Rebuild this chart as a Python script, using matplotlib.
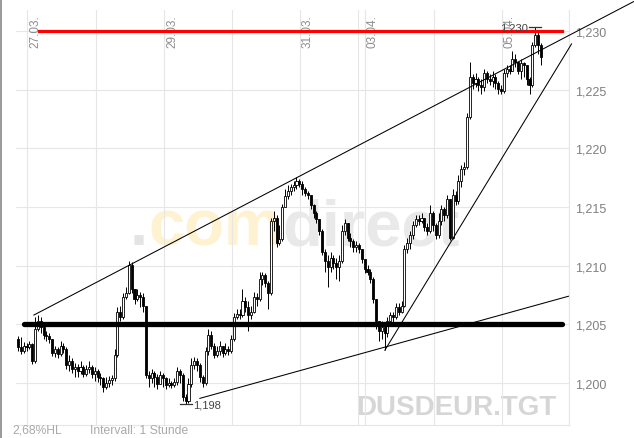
import numpy as np
import matplotlib
matplotlib.use("Agg")
import matplotlib.pyplot as plt

plt.rcParams['font.family'] = ['Liberation Sans', 'DejaVu Sans']

# hourly candles, USD/EUR (open of each bar = close of the previous one)
first_open = 1.2038
close = [1.2031, 1.2027, 1.2032, 1.2031, 1.2033, 1.2019, 1.2046, 1.2053, 1.2048, 1.2041,
         1.2040, 1.2038, 1.2026, 1.2029, 1.2025, 1.2032, 1.2029, 1.2015, 1.2019, 1.2012,
         1.2014, 1.2010, 1.2014, 1.2008, 1.2012, 1.2014, 1.2008, 1.2010, 1.2005, 1.2004,
         1.1997, 1.2000, 1.2003, 1.2004, 1.2024, 1.2061, 1.2056, 1.2073, 1.2077, 1.2101,
         1.2080, 1.2072, 1.2075, 1.2073, 1.2066, 1.2007, 1.2004, 1.2009, 1.2005, 1.1999,
         1.2007, 1.2004, 1.1998, 1.2000, 1.1998, 1.2001, 1.2010, 1.2007, 1.1988, 1.1985,
         1.1999, 1.2015, 1.2019, 1.2015, 1.2005, 1.2000, 1.2027, 1.2041, 1.2032, 1.2024,
         1.2027, 1.2032, 1.2026, 1.2029, 1.2027, 1.2038, 1.2056, 1.2059, 1.2058, 1.2070,
         1.2065, 1.2058, 1.2061, 1.2073, 1.2072, 1.2089, 1.2092, 1.2085, 1.2077, 1.2138,
         1.2141, 1.2119, 1.2123, 1.2150, 1.2159, 1.2164, 1.2167, 1.2169, 1.2172, 1.2170,
         1.2165, 1.2162, 1.2160, 1.2152, 1.2145, 1.2140, 1.2130, 1.2112, 1.2104, 1.2099,
         1.2107, 1.2102, 1.2099, 1.2104, 1.2130, 1.2136, 1.2124, 1.2121, 1.2116, 1.2118,
         1.2114, 1.2106, 1.2097, 1.2095, 1.2089, 1.2072, 1.2053, 1.2044, 1.2048, 1.2043,
         1.2053, 1.2058, 1.2056, 1.2065, 1.2061, 1.2066, 1.2114, 1.2119, 1.2126, 1.2135,
         1.2140, 1.2138, 1.2141, 1.2133, 1.2130, 1.2145, 1.2135, 1.2126, 1.2138, 1.2148,
         1.2143, 1.2157, 1.2124, 1.2160, 1.2155, 1.2172, 1.2182, 1.2184, 1.2227, 1.2261,
         1.2256, 1.2259, 1.2254, 1.2252, 1.2264, 1.2259, 1.2257, 1.2261, 1.2256, 1.2251,
         1.2249, 1.2264, 1.2268, 1.2266, 1.2276, 1.2274, 1.2266, 1.2273, 1.2271, 1.2259,
         1.2254, 1.2288, 1.2297, 1.2288, 1.2278]
high = [1.2040, 1.2039, 1.2035, 1.2034, 1.2036, 1.2034, 1.2056, 1.2058, 1.2056, 1.2049,
        1.2044, 1.2043, 1.2038, 1.2032, 1.2031, 1.2036, 1.2034, 1.2031, 1.2024, 1.2021,
        1.2017, 1.2016, 1.2019, 1.2015, 1.2015, 1.2019, 1.2015, 1.2014, 1.2012, 1.2009,
        1.2005, 1.2005, 1.2006, 1.2007, 1.2029, 1.2065, 1.2066, 1.2077, 1.2082, 1.2104,
        1.2103, 1.2080, 1.2080, 1.2078, 1.2077, 1.2066, 1.2010, 1.2012, 1.2010, 1.2008,
        1.2010, 1.2009, 1.2005, 1.2004, 1.2002, 1.2004, 1.2014, 1.2012, 1.2009, 1.1991,
        1.2004, 1.2021, 1.2022, 1.2021, 1.2017, 1.2007, 1.2031, 1.2046, 1.2044, 1.2034,
        1.2032, 1.2036, 1.2032, 1.2034, 1.2032, 1.2041, 1.2060, 1.2063, 1.2063, 1.2080,
        1.2073, 1.2070, 1.2066, 1.2078, 1.2077, 1.2095, 1.2095, 1.2094, 1.2087, 1.2141,
        1.2147, 1.2143, 1.2135, 1.2153, 1.2165, 1.2169, 1.2170, 1.2172, 1.2176, 1.2174,
        1.2172, 1.2167, 1.2164, 1.2160, 1.2153, 1.2147, 1.2140, 1.2131, 1.2114, 1.2109,
        1.2112, 1.2109, 1.2107, 1.2109, 1.2135, 1.2140, 1.2136, 1.2128, 1.2123, 1.2121,
        1.2119, 1.2114, 1.2104, 1.2101, 1.2097, 1.2090, 1.2072, 1.2053, 1.2053, 1.2051,
        1.2056, 1.2061, 1.2061, 1.2068, 1.2068, 1.2070, 1.2118, 1.2124, 1.2130, 1.2138,
        1.2143, 1.2143, 1.2145, 1.2141, 1.2136, 1.2152, 1.2147, 1.2136, 1.2145, 1.2152,
        1.2150, 1.2160, 1.2157, 1.2165, 1.2164, 1.2177, 1.2186, 1.2188, 1.2230, 1.2274,
        1.2263, 1.2264, 1.2261, 1.2259, 1.2268, 1.2266, 1.2263, 1.2266, 1.2263, 1.2257,
        1.2254, 1.2268, 1.2271, 1.2271, 1.2283, 1.2280, 1.2274, 1.2276, 1.2274, 1.2271,
        1.2261, 1.2291, 1.2303, 1.2300, 1.2290]
low = [1.2027, 1.2025, 1.2026, 1.2027, 1.2029, 1.2016, 1.2017, 1.2044, 1.2043, 1.2038,
       1.2036, 1.2034, 1.2023, 1.2022, 1.2021, 1.2023, 1.2026, 1.2012, 1.2010, 1.2009,
       1.2005, 1.2005, 1.2008, 1.2005, 1.2006, 1.2009, 1.2004, 1.2002, 1.2001, 1.1998,
       1.1992, 1.1995, 1.1997, 1.1998, 1.2002, 1.2022, 1.2053, 1.2055, 1.2072, 1.2076,
       1.2077, 1.2067, 1.2070, 1.2065, 1.2061, 1.2004, 1.1997, 1.2000, 1.1997, 1.1995,
       1.2002, 1.1997, 1.1995, 1.1997, 1.1996, 1.1997, 1.1998, 1.2000, 1.1985, 1.1982,
       1.1983, 1.1997, 1.2012, 1.2010, 1.2001, 1.1997, 1.1998, 1.2024, 1.2029, 1.2021,
       1.2022, 1.2024, 1.2022, 1.2024, 1.2024, 1.2026, 1.2036, 1.2055, 1.2055, 1.2056,
       1.2061, 1.2044, 1.2055, 1.2060, 1.2066, 1.2070, 1.2084, 1.2082, 1.2063, 1.2075,
       1.2130, 1.2116, 1.2118, 1.2121, 1.2150, 1.2157, 1.2160, 1.2164, 1.2165, 1.2167,
       1.2160, 1.2159, 1.2157, 1.2148, 1.2141, 1.2136, 1.2126, 1.2109, 1.2095, 1.2082,
       1.2095, 1.2097, 1.2089, 1.2087, 1.2102, 1.2126, 1.2121, 1.2116, 1.2112, 1.2112,
       1.2111, 1.2102, 1.2094, 1.2092, 1.2085, 1.2068, 1.2046, 1.2036, 1.2038, 1.2028,
       1.2039, 1.2049, 1.2051, 1.2055, 1.2058, 1.2060, 1.2065, 1.2111, 1.2114, 1.2123,
       1.2133, 1.2135, 1.2136, 1.2130, 1.2126, 1.2128, 1.2130, 1.2123, 1.2124, 1.2135,
       1.2138, 1.2141, 1.2122, 1.2123, 1.2152, 1.2153, 1.2167, 1.2177, 1.2182, 1.2225,
       1.2251, 1.2252, 1.2249, 1.2246, 1.2249, 1.2256, 1.2254, 1.2252, 1.2251, 1.2246,
       1.2246, 1.2247, 1.2261, 1.2263, 1.2266, 1.2269, 1.2263, 1.2259, 1.2261, 1.2254,
       1.2246, 1.2252, 1.2286, 1.2280, 1.2271]

# day boundaries (bar index) and their labels
day_pos = [3.2, 27.5, 51.4, 75.3, 99.2, 119.6, 122.1, 146.4, 170.3, 193.9]
day_labels = ['27.03.', '', '29.03.', '', '31.03.', '', '03.04.', '', '05.04.', '']
price_ticks = [1.200, 1.205, 1.210, 1.215, 1.220, 1.225, 1.230]

# drawn lines: horizontal levels and trend lines (bar index, price)
resistance = 1.230
resistance_span = [7.4, 191.3]
support = 1.205
support_span = [2.1, 191.6]
upper_trend = ([5.6, 216.6], [1.2058, 1.2325])
lower_trend = ([64.0, 193.7], [1.1987, 1.2074])
steep_trend = ([129.1, 194.8], [1.2028, 1.2289])

close = np.array(close)
high = np.array(high)
low = np.array(low)
opn = np.concatenate([[first_open], close[:-1]])
x = np.arange(len(close))

fig = plt.figure(figsize=(6.34, 4.39), dpi=100)
ax = fig.add_axes([16 / 634, 13 / 439, 553 / 634, 415 / 439])
ax.set_xlim(-0.7, 193.9)
ax.set_ylim(1.19643, 1.23179)

grid_c = '#e6e6e6'
for p in day_pos:
    ax.axvline(p, color=grid_c, lw=0.8, zorder=1)
for p in price_ticks:
    ax.axhline(p, color=grid_c, lw=0.8, zorder=1)

for s in ['left', 'top']:
    ax.spines[s].set_visible(False)
for s in ['bottom', 'right']:
    ax.spines[s].set_color(grid_c)
    ax.spines[s].set_linewidth(0.8)

ax.set_xticks([])
ax.yaxis.tick_right()
ax.set_yticks(price_ticks)
ax.set_yticklabels([f'{p:.3f}'.replace('.', ',') for p in price_ticks])
ax.tick_params(axis='y', length=0, pad=4.5, labelsize=9, labelcolor='#808080')

# date labels, rotated, right of each day line
for p, lab in zip(day_pos, day_labels):
    if lab:
        ax.annotate(lab, (p, 0.99), xycoords=('data', 'axes fraction'),
                    xytext=(1.4, 0), textcoords='offset points', rotation=90,
                    ha='left', va='top', fontsize=8.5, color='#8c8c8c')

# candles
up = close >= opn
ax.vlines(x, low, high, color='black', lw=0.7, zorder=3)
body_lo = np.minimum(opn, close)
body_h = np.maximum(np.abs(close - opn), 0.00003)
ax.bar(x[up], body_h[up], bottom=body_lo[up], width=0.72, color='white',
       edgecolor='black', linewidth=0.6, zorder=3)
ax.bar(x[~up], body_h[~up], bottom=body_lo[~up], width=0.72, color='black',
       edgecolor='black', linewidth=0.6, zorder=3)

# levels and trend lines
ax.plot(resistance_span, [resistance, resistance], color='#ff0000', lw=2.3, zorder=5)
ax.plot(support_span, [support, support], color='black', lw=3.8,
        solid_capstyle='round', zorder=5)
for tx, ty in [upper_trend, lower_trend, steep_trend]:
    ax.plot(tx, ty, color='black', lw=0.75, zorder=4, clip_on=False)

# high / low markers
ih = int(np.argmax(high))
il = int(np.argmin(low))
ax.plot([ih - 2.1, ih + 2.1], [high[ih], high[ih]], color='#333333', lw=0.9, zorder=4)
ax.annotate(f'{high[ih]:.3f}'.replace('.', ','), (ih - 2.1, high[ih]),
            xytext=(-1, 0), textcoords='offset points', ha='right', va='center',
            fontsize=8, color='#444444', zorder=6)
ax.plot([il - 2.1, il + 2.1], [low[il], low[il]], color='#333333', lw=0.9, zorder=4)
ax.annotate(f'{low[il]:.3f}'.replace('.', ','), (il + 2.1, low[il]),
            xytext=(1, 0), textcoords='offset points', ha='left', va='center',
            fontsize=8, color='#444444', zorder=6)

# watermarks
ax.text(0.978, 0.0265, 'DUSDEUR.TGT', transform=ax.transAxes, ha='right',
        va='baseline', fontsize=20, fontweight='bold', color='#d6d6d6', zorder=0)
fig.canvas.draw()
r = fig.canvas.get_renderer()
x0 = 0.206
for s, c in [('.', '#e4e4e4'), ('com', '#fff2d0'), ('direct', '#e9e9e9')]:
    t = ax.text(x0, 0.436, s, transform=ax.transAxes, ha='left', va='baseline',
                fontsize=47, fontweight='bold', color=c, zorder=0)
    x0 += t.get_window_extent(r).width / ax.bbox.width

fig.text(12 / 634, 8 / 439, '2,68%HL', fontsize=8.7, color='#aaaaaa', va='center')
fig.text(90 / 634, 8 / 439, 'Intervall: 1 Stunde', fontsize=8.7, color='#aaaaaa',
         va='center')

# grey border on the left edge
fig.add_artist(plt.Line2D([0.0015, 0.0015], [0, 1], color='#888888', lw=1.2,
                          transform=fig.transFigure))

fig.savefig('out.png', dpi=100)
